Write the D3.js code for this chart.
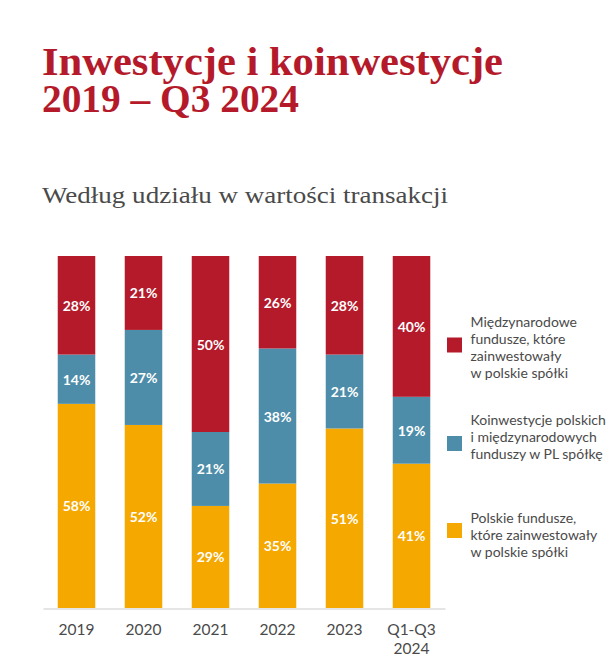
<!DOCTYPE html>
<html><head><meta charset="utf-8">
<script src="https://cdn.jsdelivr.net/npm/d3@7"></script>
<style>html,body{margin:0;padding:0;background:#fff;}</style>
</head><body>
<svg id="c" width="612" height="658"></svg>
<script>
const categories = ["2019","2020","2021","2022","2023","Q1-Q3\n2024"];
const seriesNames = ["Polskie fundusze","Koinwestycje","Międzynarodowe fundusze"];
const polskie = [58,52,29,35,51,41];
const koinwestycje = [14,27,21,38,21,19];
const miedzynarodowe = [28,21,50,26,28,40];
const colors = ["#F5A800","#4D8DA9","#B41A2A"];
const titleLines = ["Inwestycje i koinwestycje","2019 – Q3 2024"];
const legendLabels = [
  ["Międzynarodowe","fundusze, które","zainwestowały","w polskie spółki"],
  ["Koinwestycje polskich","i międzynarodowych","funduszy w PL spółkę"],
  ["Polskie fundusze,","które zainwestowały","w polskie spółki"]
];
const legendColors = ["#B41A2A","#4D8DA9","#F5A800"];

const svg = d3.select("#c");

// Title (one text element, two lines)
const title = svg.append("text")
  .attr("font-family","Liberation Serif").attr("font-weight","bold")
  .attr("font-size",39).attr("fill","#B41A2A");
const titleW = [461,257], titleY = [75,112];
titleLines.forEach((l,i)=>title.append("tspan").attr("x",42).attr("y",titleY[i])
  .attr("textLength",titleW[i]).attr("lengthAdjust","spacingAndGlyphs").text(l));

svg.append("text").attr("x",42).attr("y",203)
  .attr("font-family","Liberation Serif").attr("font-size",24).attr("fill","#4a4a4a")
  .attr("textLength",406).attr("lengthAdjust","spacingAndGlyphs")
  .text("Według udziału w wartości transakcji");

// Data
const rows = categories.map((c,i)=>{
  const tot = polskie[i]+koinwestycje[i]+miedzynarodowe[i];
  return {cat:c, vals:[polskie[i],koinwestycje[i],miedzynarodowe[i]], tot};
});
const x = d3.scaleBand().domain(categories).range([43,445]).paddingInner(0.44).paddingOuter(0.22);
const y = d3.scaleLinear().domain([0,1]).range([608,256]);

rows.forEach(r=>{
  let acc = 0;
  r.vals.forEach((v,k)=>{
    const y0 = acc/r.tot, y1 = (acc+v)/r.tot;
    acc += v;
    svg.append("rect").attr("x",x(r.cat)).attr("width",x.bandwidth())
      .attr("y",y(y1)).attr("height",y(y0)-y(y1)).attr("fill",colors[k]);
    svg.append("text").attr("x",x(r.cat)+x.bandwidth()/2).attr("y",(y(y0)+y(y1))/2)
      .attr("text-anchor","middle").attr("dominant-baseline","central")
      .attr("font-family","Lato").attr("font-weight","bold").attr("font-size",14)
      .attr("fill","#fff").text(v+"%");
  });
});

// axis
const axis = svg.append("g").attr("transform","translate(0,608.5)")
  .call(d3.axisBottom(x).tickSize(0).tickFormat(""));
axis.select(".domain").attr("stroke","#dcdcdc").attr("stroke-width",1.5);
categories.forEach(c=>{
  const lines = c.split("\n");
  const tx = svg.append("text").attr("x",x(c)+x.bandwidth()/2).attr("text-anchor","middle")
    .attr("font-family","Lato").attr("font-size",15.5).attr("fill","#4a4a4a");
  lines.forEach((l,i)=>tx.append("tspan").attr("x",x(c)+x.bandwidth()/2).attr("y",635+i*19).text(l));
});

// legend
const legY = [345,443.5,530.5];
legendLabels.forEach((lines,i)=>{
  svg.append("rect").attr("x",447).attr("y",legY[i]-7.5).attr("width",15).attr("height",15).attr("fill",legendColors[i]);
  const startC = (i===0?321.7:(i===1?419:517));
  const tx = svg.append("text").attr("font-family","Lato").attr("font-size",14)
    .attr("fill","#4a4a4a");
  lines.forEach((l,j)=>tx.append("tspan").attr("x",470.5).attr("y",startC+j*17).attr("dominant-baseline","central").text(l));
});
</script>
</body></html>
